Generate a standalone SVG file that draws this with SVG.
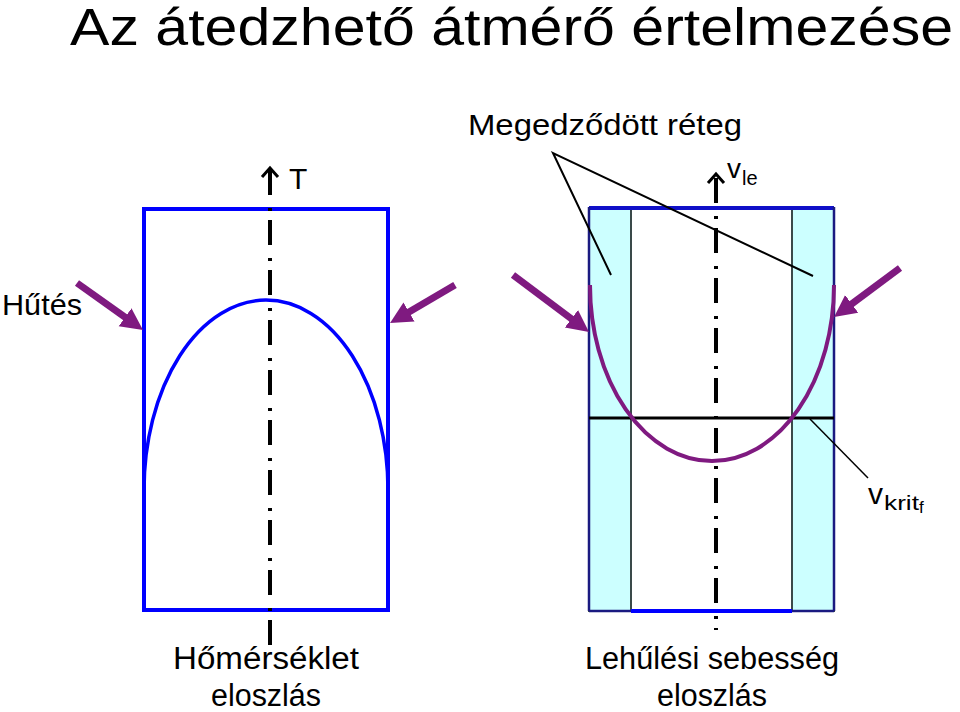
<svg xmlns="http://www.w3.org/2000/svg" width="960" height="712" viewBox="0 0 960 712">
<defs>
<style>
text{font-family:"Liberation Sans",Arial,sans-serif;fill:#000}
.axis{stroke:#000;stroke-width:4;fill:none;stroke-dasharray:25 13 3 9}
.arrowtip{stroke:#000;stroke-width:3;fill:none}
.cool{stroke:#7F1A80;stroke-width:7;marker-end:url(#ph)}
.leader{stroke:#000;stroke-width:2;fill:none}
.band{fill:#CCFFFF;stroke:#3A4A4A;stroke-width:2}
</style>
<marker id="ph" markerUnits="userSpaceOnUse" markerWidth="26" markerHeight="26" viewBox="0 -13 26 26" refX="2" refY="0" orient="auto">
<path d="M0,-11 L22,0 L0,11 Z" fill="#7F1A80"/>
</marker>
</defs>
<rect width="960" height="712" fill="#fff"/>

<g id="title"><text x="70" y="45" font-size="51" textLength="883" lengthAdjust="spacingAndGlyphs">Az átedzhető átmérő értelmezése</text></g>

<g id="temp-profile">
<rect x="144" y="209" width="244" height="401" fill="#fff" stroke="#0000FF" stroke-width="4"/>
<path d="M144,490 A122,190 0 0 1 388,490" fill="none" stroke="#0000FF" stroke-width="3.5"/>
</g>

<g id="rate-profile">
<rect x="589" y="208" width="245" height="403" fill="#fff"/>
<rect class="band" x="589" y="208" width="42" height="403"/>
<rect class="band" x="792" y="208" width="42" height="403"/>
<line x1="589" y1="208" x2="834" y2="208" stroke="#1010C8" stroke-width="4"/>
<line x1="589" y1="207" x2="589" y2="611" stroke="#1A1A80" stroke-width="2.5"/>
<line x1="834" y1="207" x2="834" y2="611" stroke="#1A1A80" stroke-width="2.5"/>
<line x1="589" y1="611" x2="834" y2="611" stroke="#1A1A80" stroke-width="2.5"/>
<line x1="631" y1="611" x2="792" y2="611" stroke="#0000FF" stroke-width="4"/>
<line x1="589" y1="418" x2="834" y2="418" stroke="#000" stroke-width="3"/>
<path d="M590,285 A122,176 0 0 0 834,285" fill="none" stroke="#7F1A80" stroke-width="4"/>
</g>

<g id="connectors">
<line class="axis" x1="270" y1="170" x2="270" y2="645"/>
<path class="arrowtip" d="M262,177 L270,168 L278,177"/>
<line class="axis" x1="716" y1="178" x2="716" y2="630"/>
<path class="arrowtip" d="M708,183 L716,174 L724,183"/>
<line class="cool" x1="77" y1="283" x2="126.7" y2="318.4"/>
<line class="cool" x1="455" y1="285" x2="407.3" y2="312.9"/>
<line class="cool" x1="513" y1="275" x2="573" y2="320"/>
<line class="cool" x1="900" y1="268" x2="850.1" y2="305.1"/>
<polyline class="leader" points="611,275 553,153 813,276"/>
<line x1="810" y1="419" x2="868" y2="478" stroke="#000" stroke-width="1.5"/>
</g>

<g id="labels">
<text x="468" y="135" font-size="30" textLength="274" lengthAdjust="spacingAndGlyphs">Megedződött réteg</text>
<text x="289" y="189" font-size="30">T</text>
<text x="727" y="178" font-size="28">v</text>
<text x="742" y="185" font-size="20">le</text>
<text x="2" y="315" font-size="30" textLength="80" lengthAdjust="spacingAndGlyphs">Hűtés</text>
<text x="868" y="504" font-size="30">v</text>
<text x="884" y="510" font-size="21" textLength="35" lengthAdjust="spacingAndGlyphs">krit</text>
<text x="919" y="513" font-size="17">f</text>
<text x="266" y="669" font-size="31" text-anchor="middle" textLength="186" lengthAdjust="spacingAndGlyphs">Hőmérséklet</text>
<text x="266" y="706" font-size="31" text-anchor="middle" textLength="110" lengthAdjust="spacingAndGlyphs">eloszlás</text>
<text x="712" y="669" font-size="31" text-anchor="middle" textLength="254" lengthAdjust="spacingAndGlyphs">Lehűlési sebesség</text>
<text x="712" y="706" font-size="31" text-anchor="middle" textLength="110" lengthAdjust="spacingAndGlyphs">eloszlás</text>
</g>
</svg>
